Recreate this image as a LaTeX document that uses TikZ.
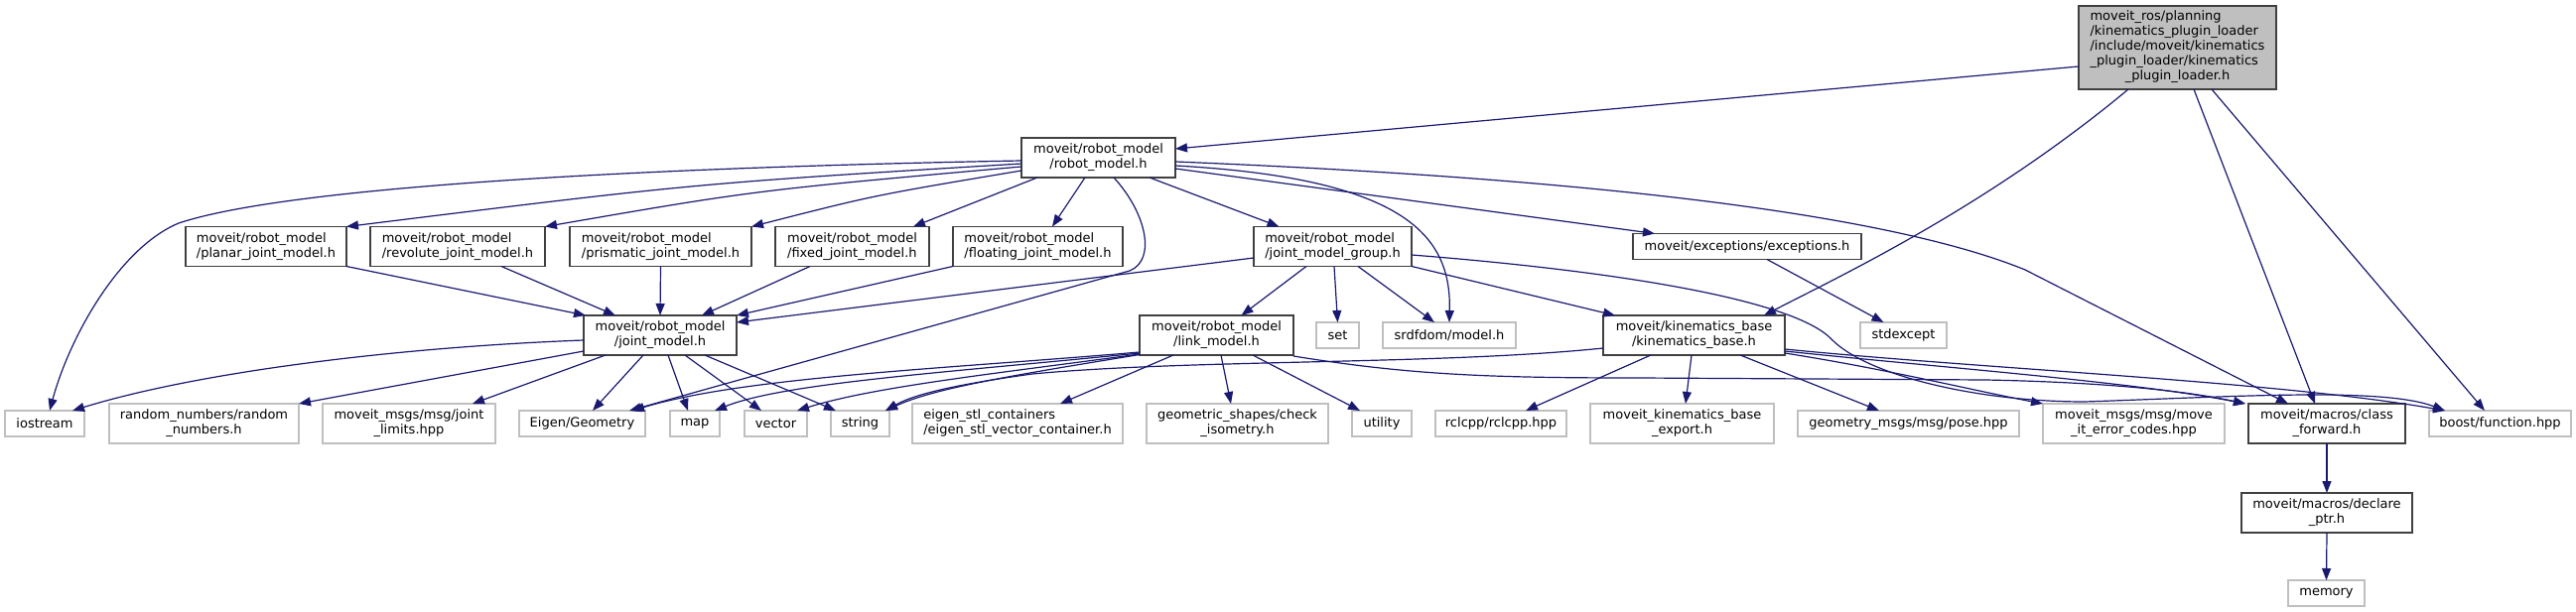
\documentclass[tikz,border=0pt]{standalone}
\usepackage{fontspec}
\setmainfont{DejaVu Sans}
\usetikzlibrary{arrows.meta}
\definecolor{midnightblue}{RGB}{25,25,112}
\begin{document}
\begin{tikzpicture}[x=1pt,y=-1pt,font=\fontsize{13}{15}\selectfont,
  box/.style={fill=white,line width=1.5pt,inner sep=0pt,outer sep=0pt,text=black},
  bn/.style={box,draw=black!75},
  gn/.style={box,draw=black!25},
  tn/.style={box,draw=black!75,fill=black!25},
  two/.style={minimum height=40},
  one/.style={minimum height=26},
  e/.style={draw=midnightblue,line width=1.2pt,-{Triangle[length=12pt,width=9pt]}}]
\fill[white] (0,0) rectangle (2595,617);
\useasboundingbox (0,0) rectangle (2595,617);

% nodes
\node[tn,minimum width=199,minimum height=84] (top) at (2193.5,48)
  {\begin{tabular}{@{}l@{}}moveit\_ros/planning\\/kinematics\_plugin\_loader\\/include/moveit/kinematics\\\_plugin\_loader/kinematics\\\multicolumn{1}{@{}c@{}}{\_plugin\_loader.h}\end{tabular}};
\node[bn,two,minimum width=155,align=center] (robot) at (1106.5,159) {moveit/robot\_model\\/robot\_model.h};

\node[bn,two,minimum width=162,align=left] (planar) at (268,248.5) {moveit/robot\_model\\/planar\_joint\_model.h};
\node[bn,two,minimum width=176,align=left] (revolute) at (461,248.5) {moveit/robot\_model\\/revolute\_joint\_model.h};
\node[bn,two,minimum width=183,align=left] (prismatic) at (665.5,248.5) {moveit/robot\_model\\/prismatic\_joint\_model.h};
\node[bn,two,minimum width=155,align=left] (fixed) at (858.5,248.5) {moveit/robot\_model\\/fixed\_joint\_model.h};
\node[bn,two,minimum width=171,align=left] (floating) at (1045.5,248.5) {moveit/robot\_model\\/floating\_joint\_model.h};
\node[bn,two,minimum width=159,align=left] (jmg) at (1342.5,248.5) {moveit/robot\_model\\/joint\_model\_group.h};
\node[bn,one,minimum width=230] (exc) at (1760,248.5) {moveit/exceptions/exceptions.h};

\node[bn,two,minimum width=154,align=center] (jm) at (665,338) {moveit/robot\_model\\/joint\_model.h};
\node[bn,two,minimum width=155,align=center] (link) at (1225.5,338) {moveit/robot\_model\\/link\_model.h};
\node[gn,one,minimum width=43] (set) at (1347.5,338) {set};
\node[gn,one,minimum width=134] (srdf) at (1460,338) {srdfdom/model.h};
\node[bn,two,minimum width=183,align=center] (kin) at (1706.5,338) {moveit/kinematics\_base\\/kinematics\_base.h};
\node[gn,one,minimum width=87] (stdexc) at (1917.5,338) {stdexcept};

\node[gn,one,minimum width=80] (iostream) at (45,427) {iostream};
\node[gn,two,minimum width=191,align=center] (random) at (205.5,427) {random\_numbers/random\\\_numbers.h};
\node[gn,two,minimum width=174,align=center] (jlim) at (412,427) {moveit\_msgs/msg/joint\\\_limits.hpp};
\node[gn,one,minimum width=127] (eigen) at (586.5,427) {Eigen/Geometry};
\node[gn,one,minimum width=50] (map) at (700,427) {map};
\node[gn,one,minimum width=63] (vector) at (781.5,427) {vector};
\node[gn,one,minimum width=59] (string) at (866.5,427) {string};
\node[gn,two,minimum width=212,align=left] (estl) at (1025,427) {eigen\_stl\_containers\\/eigen\_stl\_vector\_container.h};
\node[gn,two,minimum width=183,align=center] (geo) at (1246.5,427) {geometric\_shapes/check\\\_isometry.h};
\node[gn,one,minimum width=60] (utility) at (1392,427) {utility};
\node[gn,one,minimum width=132] (rclcpp) at (1512,427) {rclcpp/rclcpp.hpp};
\node[gn,two,minimum width=185,align=center] (kbexp) at (1694.5,427) {moveit\_kinematics\_base\\\_export.h};
\node[gn,one,minimum width=223] (pose) at (1922.5,427) {geometry\_msgs/msg/pose.hpp};
\node[gn,two,minimum width=183,align=center] (err) at (2149.5,427) {moveit\_msgs/msg/move\\\_it\_error\_codes.hpp};
\node[bn,two,minimum width=158,align=center] (cfwd) at (2344,427) {moveit/macros/class\\\_forward.h};
\node[gn,one,minimum width=143] (boost) at (2518.5,427) {boost/function.hpp};
\node[bn,two,minimum width=172,align=center] (decl) at (2344,517) {moveit/macros/declare\\\_ptr.h};
\node[gn,one,minimum width=77] (memory) at (2343.5,598) {memory};

% edges from top
\draw[e] ([yshift=-19]top.west) -- ([yshift=9]robot.east);
\draw[e] ([xshift=-49.5]top.south) .. controls (2000,210) and (1850,280) .. ([xshift=70.5]kin.north);
\draw[e] ([xshift=16.5]top.south) -- ([xshift=-12]cfwd.north);
\draw[e] ([xshift=34.5]top.south) -- ([xshift=-15.5]boost.north);

% edges from robot_model
\draw[e] ([yshift=-3]robot.west) .. controls (700,168) and (300,185) .. (180,225) .. controls (120,250) and (70,340) .. ([xshift=5]iostream.north);
\draw[e] ([yshift=-6]robot.west) .. controls (700,185) .. (planar.north east);
\draw[e] ([yshift=-9]robot.west) .. controls (760,192) .. (revolute.north east);
\draw[e] ([yshift=-13]robot.west) .. controls (880,197) .. (prismatic.north east);
\draw[e] ([xshift=16]robot.south west) -- ([xshift=-16]fixed.north east);
\draw[e] ([xshift=-13.5]robot.south) -- ([xshift=14.5]floating.north);
\draw[e] ([xshift=15.5]robot.south) .. controls (1155,215) and (1165,262) .. (1138,273) -- ([xshift=-16]eigen.north east);
\draw[e] ([xshift=51.5]robot.south) -- ([xshift=-54]jmg.north);
\draw[e] ([yshift=-8]robot.east) .. controls (1420,180) and (1462,240) .. (srdf.north);
\draw[e] ([yshift=-11]robot.east) -- ([xshift=22]exc.north west);
\draw[e] ([yshift=-4]robot.east) .. controls (1600,180) and (1900,215) .. (2040,272) -- ([xshift=40]cfwd.north west);

% into joint_model
\draw[e] (planar.south east) -- ([xshift=2]jm.north west);
\draw[e] ([xshift=44]revolute.south) -- ([xshift=-45]jm.north);
\draw[e] (prismatic.south) -- (jm.north);
\draw[e] ([xshift=-42.5]fixed.south) -- ([xshift=42]jm.north);
\draw[e] (floating.south west) -- (jm.north east);
\draw[e] ([yshift=-11.5]jmg.west) -- ([yshift=-7]jm.north east);

% from joint_model
\draw[e] ([yshift=-5]jm.west) .. controls (400,350) and (200,375) .. ([xshift=28]iostream.north);
\draw[e] ([yshift=-16]jm.west) -- (random.north east);
\draw[e] ([xshift=-55]jm.south) -- ([xshift=64]jlim.north);
\draw[e] ([xshift=-17]jm.south) -- ([xshift=10.5]eigen.north);
\draw[e] ([xshift=8]jm.south) -- ([xshift=-7]map.north);
\draw[e] ([xshift=25]jm.south) -- ([xshift=-14.5]vector.north);
\draw[e] ([xshift=45]jm.south) -- ([xshift=-24.5]string.north);

% from joint_model_group
\draw[e] ([xshift=-26.5]jmg.south) -- ([xshift=25]link.north);
\draw[e] ([xshift=1.5]jmg.south) -- (set.north);
\draw[e] ([xshift=25.5]jmg.south) -- ([xshift=-15]srdf.north);
\draw[e] (jmg.south east) -- ([xshift=12]kin.north west);
\draw[e] ([yshift=-8.5]jmg.east) .. controls (1650,275) and (1810,305) .. (1845,342) .. controls (1880,378) and (1990,405) .. (2100,405) .. controls (2250,400) and (2400,390) .. ([xshift=16]boost.north west);

% from link_model
\draw[e] ([yshift=-17]link.west) .. controls (950,372) and (750,380) .. ([xshift=-13]eigen.north east);
\draw[e] ([yshift=-18]link.west) .. controls (950,376) and (790,386) .. ([xshift=20]map.north);
\draw[e] ([yshift=-19]link.west) .. controls (1000,377) and (880,390) .. ([xshift=21.5]vector.north);
\draw[e] ([yshift=-19.5]link.west) .. controls (1010,380) and (940,392) .. ([xshift=-4]string.north east);
\draw[e] ([xshift=-43.5]link.south) -- ([xshift=43]estl.north);
\draw[e] ([xshift=4.5]link.south) -- ([xshift=-6.5]geo.north);
\draw[e] ([xshift=36.5]link.south) -- ([xshift=8]utility.north west);
\draw[e] ([yshift=-1]link.south east) .. controls (1420,378) and (1500,381) .. (1650,381) -- (2000,383) .. controls (2150,386) and (2220,398) .. ([xshift=-3]cfwd.north west);

% from kinematics_base
\draw[e] ([yshift=-13]kin.west) .. controls (1450,368) and (1200,362) .. (1040,377) .. controls (960,388) and (920,398) .. ([xshift=-4]string.north east);
\draw[e] ([xshift=-43.5]kin.south) -- ([xshift=25]rclcpp.north);
\draw[e] ([xshift=-2.5]kin.south) -- ([xshift=3.5]kbexp.north);
\draw[e] ([xshift=46.5]kin.south) -- ([xshift=-29.5]pose.north);
\draw[e] ([yshift=-18]kin.east) .. controls (1900,372) and (1980,392) .. (err.north west);
\draw[e] ([yshift=-16]kin.east) .. controls (1950,370) and (2150,385) .. ([xshift=-3]cfwd.north west);
\draw[e] ([yshift=-14]kin.east) .. controls (2000,372) and (2300,385) .. ([xshift=16]boost.north west);

% others
\draw[e] ([xshift=20]exc.south) -- ([xshift=-20]stdexc.north);
\draw[e] (cfwd.south) -- (decl.north);
\draw[e] (decl.south) -- (memory.north);
\end{tikzpicture}
\end{document}
